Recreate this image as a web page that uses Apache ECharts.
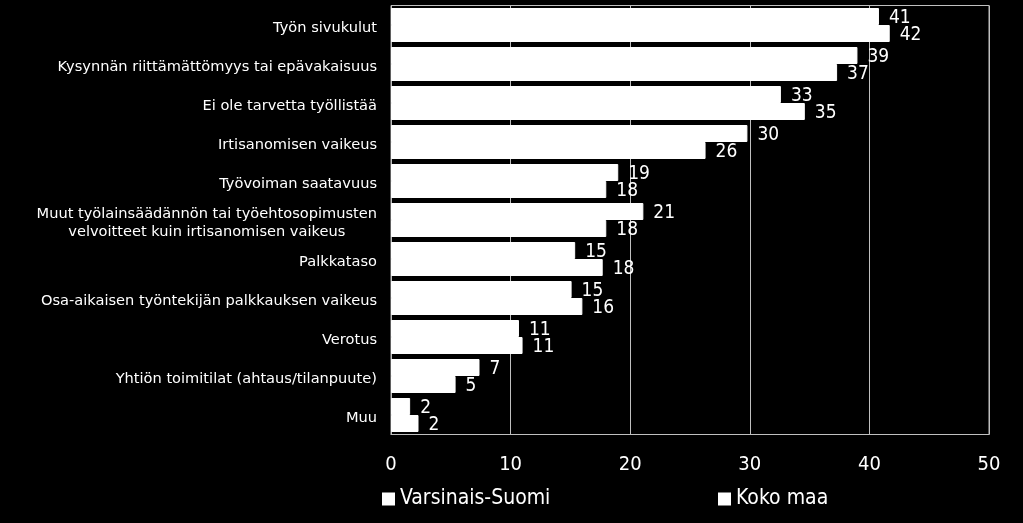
<!DOCTYPE html>
<html>
<head>
<meta charset="utf-8">
<script src="https://cdn.jsdelivr.net/npm/echarts@6/dist/echarts.min.js"></script>
<style>
  html, body { margin: 0; padding: 0; background: #000; }
  #chart { width: 1023px; height: 523px; }
</style>
</head>
<body>
<div id="chart"></div>
<script>
const categories = [
    'Työn sivukulut',
    'Kysynnän riittämättömyys tai epävakaisuus',
    'Ei ole tarvetta työllistää',
    'Irtisanomisen vaikeus',
    'Työvoiman saatavuus',
    'Muut työlainsäädännön tai työehtosopimusten\nvelvoitteet kuin irtisanomisen vaikeus',
    'Palkkataso',
    'Osa-aikaisen työntekijän palkkauksen vaikeus',
    'Verotus',
    'Yhtiön toimitilat (ahtaus/tilanpuute)',
    'Muu'
];
const varsinaisSuomi = [40.8, 39.0, 32.6, 29.8, 19.0, 21.1, 15.4, 15.1, 10.7, 7.4, 1.6];
const kokoMaa = [41.7, 37.3, 34.6, 26.3, 18.0, 18.0, 17.7, 16.0, 11.0, 5.4, 2.3];
const seriesNames = ['Varsinais-Suomi', 'Koko maa'];
const xTicks = { min: 0, max: 50, interval: 10 };

const catSize = 14.6;
const catFont = catSize + 'px "DejaVu Sans"';
const numFont = '"DejaVu Sans Condensed"';

// widest line of a wrapped label, so the lines can be centred under each other
function textWidth(str, font) {
    let ctx = document.createElement('canvas').getContext('2d');
    ctx.font = font;
    return Math.ceil(ctx.measureText(str).width);
}

const catRich = { c: { color: '#fff', fontFamily: 'DejaVu Sans', fontSize: catSize, align: 'center', lineHeight: 18 } };
function catLabel(value) {
    if (value.indexOf('\n') < 0) return value;
    let lines = value.split('\n');
    let w = Math.max.apply(null, lines.map(function (l) { return textWidth(l, catFont); }));
    catRich.c.width = w;
    return lines.map(function (l) { return '{c|' + l + '}'; }).join('\n');
}

function barSeries(name, data) {
    return {
        name: name,
        type: 'bar',
        data: data,
        barGap: '0%',
        barWidth: 17,
        itemStyle: { color: '#fff', borderColor: '#fff', borderWidth: 1 },
        label: {
            show: true,
            position: 'right',
            distance: 10,
            offset: [0, 2],
            color: '#fff',
            fontFamily: numFont,
            fontSize: 19,
            formatter: function (p) { return Math.round(p.value); }
        }
    };
}

function legendFor(name, left) {
    return {
        data: [name], left: left, top: 488, padding: 0,
        icon: 'rect', itemWidth: 11, itemHeight: 11, itemGap: 0,
        textStyle: { color: '#fff', fontFamily: numFont, fontSize: 21, lineHeight: 22, padding: [0, 0, 0, 1] }
    };
}

let option = {
    backgroundColor: '#000',
    animation: false,
    grid: {
        left: 391, right: 34, top: 5.5, bottom: 88.5,
        show: true, borderColor: '#bfbfbf', borderWidth: 1
    },
    legend: [
        legendFor(seriesNames[0], 382),
        legendFor(seriesNames[1], 718)
    ],
    xAxis: {
        type: 'value',
        min: xTicks.min, max: xTicks.max, interval: xTicks.interval,
        axisLine: { show: true, lineStyle: { color: '#bfbfbf' } },
        axisTick: { show: false },
        axisLabel: { color: '#fff', fontFamily: numFont, fontSize: 20, margin: 20 },
        splitLine: { show: true, lineStyle: { color: '#bfbfbf', width: 1 } }
    },
    yAxis: {
        type: 'category',
        data: categories,
        inverse: true,
        axisLine: { show: true, lineStyle: { color: '#bfbfbf' } },
        axisTick: { show: false },
        axisLabel: {
            color: '#fff', fontFamily: 'DejaVu Sans', fontSize: catSize, margin: 14,
            lineHeight: 18, interval: 0, padding: [7, 0, 0, 0],
            formatter: catLabel, rich: catRich
        }
    },
    series: [
        barSeries(seriesNames[0], varsinaisSuomi),
        barSeries(seriesNames[1], kokoMaa)
    ]
};

let element = document.getElementById('chart');
let chart = echarts.init(element);
chart.setOption(option);
</script>
</body>
</html>
